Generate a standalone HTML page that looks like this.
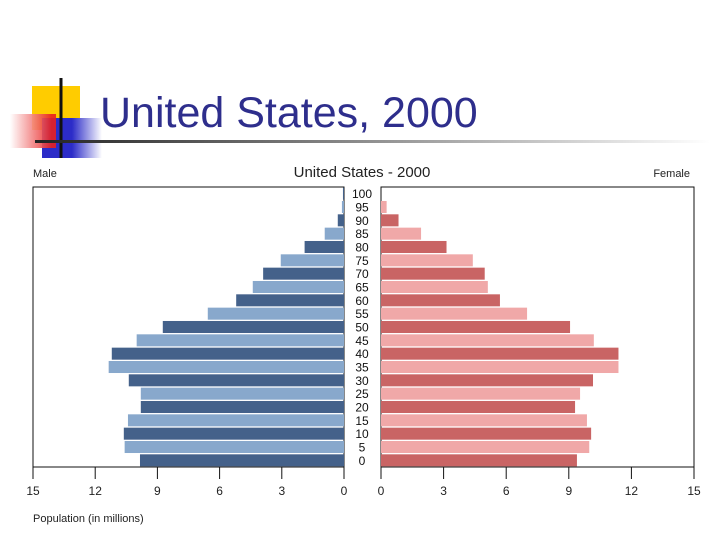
<!DOCTYPE html>
<html><head><meta charset="utf-8"><style>
body{margin:0;background:#fff;width:720px;height:540px;overflow:hidden;font-family:"Liberation Sans","DejaVu Sans",sans-serif;}
svg{display:block}
</style></head><body>
<svg width="720" height="540">
<defs>
<linearGradient id="gline" x1="0" x2="1"><stop offset="0" stop-color="#222"/><stop offset="1" stop-color="#fff"/></linearGradient>
<linearGradient id="gblue" x1="0" x2="1"><stop offset="0.5" stop-color="#2c2cc8"/><stop offset="1" stop-color="#fff"/></linearGradient>
<linearGradient id="gred" x1="1" x2="0"><stop offset="0.1" stop-color="#e82020"/><stop offset="1" stop-color="#fff"/></linearGradient>
</defs>
<g>
<rect x="32" y="86" width="48" height="44" fill="#ffcc00"/>
<rect x="42" y="118" width="60" height="40" fill="url(#gblue)"/>
<rect x="10" y="114" width="46" height="34" fill="url(#gred)" opacity="0.9"/>
<line x1="61" y1="78" x2="61" y2="158" stroke="#111" stroke-width="3"/>
</g>
<rect x="35" y="140" width="675" height="3" fill="url(#gline)"/>
<text x="100" y="127" font-size="43" fill="#2e2e8c">United States, 2000</text>
<text x="362" y="177" font-size="15" text-anchor="middle" fill="#222">United States - 2000</text>
<text x="33" y="177" font-size="11" fill="#222">Male</text>
<text x="690" y="177" font-size="11" fill="#222" text-anchor="end">Female</text>
<g id="chart"></g>
<text x="33" y="522" font-size="11" fill="#222">Population (in millions)</text>
</svg>
<script>
const ages=[0,5,10,15,20,25,30,35,40,45,50,55,60,65,70,75,80,85,90,95,100];
const male=[9.84,10.58,10.62,10.42,9.8,9.8,10.38,11.35,11.2,10.0,8.74,6.57,5.2,4.4,3.9,3.05,1.9,0.93,0.3,0.1,0.05];
const female=[9.39,9.98,10.07,9.87,9.3,9.54,10.16,11.38,11.38,10.2,9.06,7.0,5.7,5.12,4.97,4.4,3.14,1.92,0.84,0.27,0];
const ticks=[0,3,6,9,12,15];
const NS='http://www.w3.org/2000/svg';
const g=document.getElementById('chart');
const L0=344,L15=33,R0=381,R15=694,TOP=187,BOT=467;
const xl=v=>L0-(L0-L15)*v/15, xr=v=>R0+(R15-R0)*v/15;
const step=(BOT-TOP)/ages.length;
const yc=i=>BOT-step*(i+0.5);
function mk(t,a){const e=document.createElementNS(NS,t);for(const k in a)e.setAttribute(k,a[k]);g.appendChild(e);return e;}
let e;
e=mk('path',{d:`M${L15} ${TOP}H${L0}V${BOT}H${L15}Z`,fill:'none',stroke:'#111','stroke-width':1});


e=mk('path',{d:`M${R0} ${TOP}H${R15}V${BOT}H${R0}Z`,fill:'none',stroke:'#111','stroke-width':1});


ages.forEach((a,i)=>{
 const h=step-1.3,y=yc(i)-h/2;
 e=mk('rect',{x:xl(male[i]),y:y,width:L0-xl(male[i]),height:h,fill:i%2?'#88a8cc':'#44618a'});
 
 
 e=mk('rect',{x:R0,y:y,width:xr(female[i])-R0,height:h,fill:i%2?'#f0a8a8':'#c96464'});
 
 
 e=mk('text',{x:362,y:yc(i)+4.5,'font-size':12,'text-anchor':'middle',fill:'#111'});
 e.textContent=a;
 
 
});
ticks.forEach(t=>{
 [[xl(t),'male'],[xr(t),'female']].forEach(([x,s])=>{
  e=mk('line',{x1:x,y1:BOT,x2:x,y2:BOT+12,stroke:'#111'});
  
  
  e=mk('text',{x:x,y:BOT+28,'font-size':12,'text-anchor':'middle',fill:'#222'});
  e.textContent=t;
  
  
 });
});
</script>
</body></html>
